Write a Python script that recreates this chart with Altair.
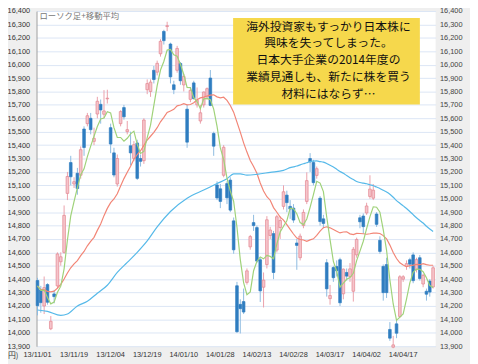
import altair as alt
import pandas as pd

# ---------------- data ----------------
dates = [
    "13/11/01", "13/11/05", "13/11/06", "13/11/07", "13/11/08", "13/11/11", "13/11/12", "13/11/13", "13/11/14", "13/11/15",
    "13/11/18", "13/11/19", "13/11/20", "13/11/21", "13/11/22", "13/11/25", "13/11/26", "13/11/27", "13/11/28", "13/11/29",
    "13/12/02", "13/12/03", "13/12/04", "13/12/05", "13/12/06", "13/12/09", "13/12/10", "13/12/11", "13/12/12", "13/12/13",
    "13/12/16", "13/12/17", "13/12/18", "13/12/19", "13/12/20", "13/12/24", "13/12/25", "13/12/26", "13/12/27", "13/12/30",
    "14/01/06", "14/01/07", "14/01/08", "14/01/09", "14/01/10", "14/01/14", "14/01/15", "14/01/16", "14/01/17", "14/01/20",
    "14/01/21", "14/01/22", "14/01/23", "14/01/24", "14/01/27", "14/01/28", "14/01/29", "14/01/30", "14/01/31", "14/02/03",
    "14/02/04", "14/02/05", "14/02/06", "14/02/07", "14/02/10", "14/02/12", "14/02/13", "14/02/14", "14/02/17", "14/02/18",
    "14/02/19", "14/02/20", "14/02/21", "14/02/24", "14/02/25", "14/02/26", "14/02/27", "14/02/28", "14/03/03", "14/03/04",
    "14/03/05", "14/03/06", "14/03/07", "14/03/10", "14/03/11", "14/03/12", "14/03/13", "14/03/14", "14/03/17", "14/03/18",
    "14/03/19", "14/03/20", "14/03/24", "14/03/25", "14/03/26", "14/03/27", "14/03/28", "14/03/31", "14/04/01", "14/04/02",
    "14/04/03", "14/04/04", "14/04/07", "14/04/08", "14/04/09", "14/04/10", "14/04/11", "14/04/14", "14/04/15", "14/04/16",
    "14/04/17", "14/04/18", "14/04/21", "14/04/22", "14/04/23", "14/04/24", "14/04/25", "14/04/28", "14/04/30", "14/05/01",
]

opens = [
    14390, 14320, 14200, 14360, 14030, 14290, 14350, 14530, 14600, 15040,
    15270, 15110, 15190, 15175, 15520, 15560, 15600, 15428, 15632, 15704,
    15630, 15745, 15530, 15342, 15110, 15560, 15680, 15500, 15395, 15300,
    15416, 15300, 15284, 15813, 15800, 15958, 15944, 16081, 16248, 16284,
    16154, 15850, 15958, 16009, 15849, 15668, 15741, 15864, 15700, 15580,
    15700, 15760, 15900, 15487, 15103, 15074, 15175, 15113, 15139, 14835,
    14351, 14212, 14233, 14376, 14641, 14822, 14785, 14545, 14340, 14509,
    14726, 14740, 14617, 14785, 14943, 15027, 14943, 14930, 14670, 14560,
    14800, 14980, 15300, 15270, 15174, 15004, 14850, 14523, 14255, 14487,
    14495, 14545, 14291, 14450, 14420, 14310, 14581, 14858, 14871, 14894,
    15017, 15004, 14886, 14690, 14495, 14509, 14025, 13893, 14067, 14122,
    14400, 14495, 14545, 14581, 14472, 14560, 14364, 14310, 14386, 14342,
]
highs = [
    14410, 14350, 14420, 14370, 14125, 14320, 14600, 14600, 14950, 15200,
    15320, 15160, 15230, 15390, 15540, 15640, 15640, 15530, 15760, 15740,
    15810, 15813, 15560, 15380, 15330, 15660, 15700, 15580, 15500, 15430,
    15440, 15330, 15600, 15890, 15890, 15990, 16030, 16190, 16260, 16320,
    16164, 15880, 16140, 16020, 15930, 15700, 15830, 15880, 15830, 15700,
    15800, 15830, 15960, 15500, 15130, 15110, 15400, 15130, 15160, 14860,
    14380, 14250, 14330, 14480, 14730, 14880, 14800, 14560, 14450, 14870,
    14790, 14760, 14880, 14870, 15100, 15060, 14990, 14960, 14700, 14740,
    14920, 15197, 15340, 15290, 15240, 15020, 14880, 14550, 14357, 14500,
    14540, 14560, 14480, 14480, 14520, 14640, 14710, 14880, 14890, 14970,
    15175, 15110, 14900, 14720, 14510, 14560, 14080, 13977, 14090, 14430,
    14430, 14540, 14560, 14600, 14560, 14580, 14440, 14330, 14400, 14500,
]
lows = [
    14130, 14150, 14140, 14210, 14020, 14220, 14330, 14500, 14590, 14990,
    15100, 15080, 15030, 15150, 15320, 15540, 15480, 15400, 15600, 15560,
    15600, 15710, 15340, 15160, 15090, 15540, 15590, 15480, 15250, 15280,
    15140, 15240, 15260, 15780, 15760, 15860, 15920, 16060, 16150, 16250,
    15860, 15780, 15940, 15850, 15800, 15380, 15720, 15740, 15680, 15560,
    15680, 15740, 15690, 15320, 14990, 14930, 15160, 14960, 14900, 14590,
    14000, 13995, 14140, 14360, 14620, 14760, 14520, 14230, 14189, 14480,
    14700, 14400, 14600, 14700, 14920, 14900, 14850, 14820, 14470, 14540,
    14780, 14960, 15200, 15100, 15150, 14800, 14780, 14270, 14210, 14380,
    14420, 14200, 14250, 14390, 14380, 14233, 14560, 14780, 14740, 14880,
    15000, 14990, 14790, 14590, 14240, 14260, 13940, 13885, 13960, 14110,
    14380, 14470, 14480, 14370, 14450, 14390, 14340, 14240, 14270, 14330,
]
closes = [
    14202, 14225, 14337, 14228, 14086, 14270, 14588, 14567, 14876, 15166,
    15164, 15127, 15076, 15366, 15382, 15619, 15515, 15450, 15727, 15662,
    15655, 15750, 15408, 15177, 15300, 15650, 15611, 15515, 15342, 15403,
    15152, 15279, 15587, 15859, 15870, 15889, 16010, 16174, 16179, 16291,
    15909, 15814, 16121, 15880, 15912, 15422, 15809, 15747, 15734, 15641,
    15796, 15821, 15696, 15392, 15006, 14980, 15384, 15007, 14915, 14619,
    14008, 14180, 14155, 14462, 14718, 14800, 14535, 14313, 14393, 14843,
    14767, 14450, 14866, 14838, 15052, 14971, 14923, 14841, 14652, 14721,
    14898, 15135, 15274, 15120, 15224, 14830, 14816, 14328, 14278, 14411,
    14463, 14224, 14475, 14423, 14477, 14623, 14696, 14828, 14792, 14946,
    15072, 15064, 14809, 14607, 14300, 14300, 13960, 13910, 13997, 14418,
    14418, 14516, 14512, 14389, 14546, 14405, 14429, 14288, 14304, 14485,
]

# moving averages (green: 5-day, red: 25-day, blue: 75-day)
ma5 = [
    14351, 14316, 14319, 14264, 14216, 14229, 14302, 14348, 14477, 14693,
    14872, 14980, 15082, 15180, 15223, 15314, 15392, 15466, 15539, 15595,
    15602, 15649, 15640, 15530, 15458, 15457, 15429, 15451, 15484, 15504,
    15405, 15338, 15353, 15456, 15549, 15697, 15843, 15960, 16024, 16109,
    16113, 16073, 16063, 16003, 15927, 15830, 15829, 15754, 15725, 15671,
    15745, 15748, 15738, 15669, 15542, 15379, 15292, 15154, 15058, 14981,
    14787, 14546, 14375, 14285, 14305, 14463, 14534, 14566, 14552, 14577,
    14570, 14553, 14664, 14753, 14795, 14835, 14930, 14925, 14888, 14822,
    14807, 14849, 14936, 15030, 15130, 15117, 15053, 14864, 14695, 14533,
    14459, 14341, 14370, 14399, 14412, 14444, 14539, 14609, 14683, 14777,
    14867, 14940, 14937, 14900, 14770, 14616, 14395, 14215, 14093, 14117,
    14141, 14252, 14372, 14451, 14476, 14474, 14456, 14411, 14352, 14339,
]
ma25 = [
    14346, 14324, 14320, 14309, 14306, 14311, 14333, 14362, 14401, 14446,
    14485, 14514, 14539, 14575, 14607, 14649, 14682, 14712, 14764, 14811,
    14874, 14928, 14971, 14998, 15037, 15095, 15150, 15197, 15242, 15295,
    15330, 15358, 15398, 15438, 15466, 15495, 15530, 15574, 15607, 15643,
    15655, 15667, 15693, 15699, 15709, 15700, 15703, 15716, 15738, 15752,
    15758, 15766, 15773, 15775, 15760, 15753, 15757, 15734, 15696, 15646,
    15571, 15497, 15417, 15348, 15285, 15241, 15190, 15117, 15058, 15015,
    14989, 14934, 14899, 14863, 14840, 14807, 14771, 14737, 14707, 14696,
    14692, 14682, 14693, 14701, 14726, 14758, 14784, 14791, 14783, 14771,
    14758, 14745, 14752, 14753, 14738, 14733, 14742, 14741, 14739, 14735,
    14739, 14744, 14743, 14741, 14725, 14701, 14654, 14599, 14554, 14522,
    14505, 14493, 14501, 14505, 14511, 14508, 14516, 14509, 14504, 14504,
]
ma75_day = [
    0, 3, 7, 9, 12, 15, 18, 21, 24, 27, 30, 33, 36, 40, 45, 50, 54, 57, 59, 61, 63, 66, 70, 74,
    75, 76, 77, 78, 79, 80, 81, 82, 83, 84, 85, 86, 87, 88, 89, 90, 91, 92, 93, 94, 95, 96, 97,
    98, 99, 100, 101, 102, 103, 104, 105, 106, 107, 108, 109, 110, 111, 112, 113, 114, 115, 116,
    117, 118, 119,
]
ma75 = [
    14170, 14160, 14130, 14140, 14200, 14235, 14295, 14355, 14450, 14525, 14600, 14685, 14790,
    14905, 15004, 15065, 15113, 15150, 15185, 15186, 15176, 15182, 15197, 15212,
    15222, 15232, 15238, 15244, 15253, 15261, 15268, 15278, 15281, 15282, 15277, 15273, 15263,
    15249, 15236, 15220, 15203, 15190, 15173, 15157, 15143, 15129, 15121,
    15116, 15112, 15104, 15097, 15087, 15077, 15063, 15051, 15034, 15011, 14986, 14967, 14947,
    14927, 14905, 14881, 14858, 14838, 14819, 14795, 14774, 14755,
]

tick_labels = ["13/11/01", "13/11/19", "13/12/04", "13/12/19", "14/01/10", "14/01/28",
               "14/02/13", "14/02/28", "14/03/17", "14/04/02", "14/04/17"]
y_ticks = [13900, 14000, 14100, 14200, 14300, 14400, 14500, 14600, 14700, 14800, 14900,
           15000, 15100, 15200, 15300, 15400, 15500, 15600, 15700, 15800, 15900, 16000,
           16100, 16200, 16300, 16400]

legend_label = "ローソク足+移動平均"
unit_label = "円)"
note_lines = [
    "海外投資家もすっかり日本株に",
    "興味を失ってしまった。",
    "日本大手企業の2014年度の",
    "業績見通しも、新たに株を買う",
    "材料にはならず…",
]

# ---------------- styling ----------------
GRID = "#dbe5f5"
UP_FILL, UP_LINE = "#f5c4cb", "#e3848f"
DN_FILL, DN_LINE = "#2f7dc0", "#2f7dc0"
UP_WICK, DN_WICK = "#eba0aa", "#8dbbe0"
LABEL_FONT = "Liberation Sans"
JP_FONT = "Noto Sans CJK JP"

df = pd.DataFrame({
    "i": list(range(len(dates))),
    "date": dates,
    "open": opens,
    "high": highs,
    "low": lows,
    "close": closes,
    "ma5": ma5,
    "ma25": ma25,
})
df["up"] = df["close"] >= df["open"]
df75 = pd.DataFrame({"i": ma75_day, "ma75": ma75})

tick_idx = [dates.index(t) for t in tick_labels]
tick_df = pd.DataFrame({"i": tick_idx, "label": tick_labels})

xs = alt.Scale(domain=[-0.3, 119.75], nice=False, zero=False)
ys = alt.Scale(domain=[13900, 16400], nice=False, zero=False)

x_axis = alt.Axis(values=tick_idx, labels=False, grid=True, gridColor=GRID,
                  gridWidth=1, domain=False, ticks=False, title=None)
y_left = alt.Axis(orient="left", values=y_ticks, format=",d", grid=True, gridColor=GRID,
                  gridWidth=1, domain=True, domainColor="#9a9a9a", ticks=False,
                  labelPadding=7, labelFontSize=7.5, labelColor="#333",
                  labelFont=LABEL_FONT, title=None)
y_right = alt.Axis(orient="right", values=y_ticks, format=",d", grid=False, domain=False,
                   ticks=False, labelPadding=4, labelFontSize=7.5, labelColor="#444",
                   labelFont=LABEL_FONT, title=None)

base = alt.Chart(df)

wicks = base.mark_rule(strokeWidth=1).encode(
    x=alt.X("i:Q", scale=xs, axis=x_axis),
    y=alt.Y("low:Q", scale=ys, axis=y_left),
    y2="high:Q",
    color=alt.condition("datum.up", alt.value(UP_WICK), alt.value(DN_WICK)),
)

bodies = base.transform_calculate(
    x0="datum.i - 0.4", x1="datum.i + 0.4"
).mark_bar(strokeWidth=0.7).encode(
    x=alt.X("x0:Q", scale=xs, axis=None),
    x2="x1:Q",
    y=alt.Y("open:Q", scale=ys, axis=None),
    y2="close:Q",
    fill=alt.condition("datum.up", alt.value(UP_FILL), alt.value(DN_FILL)),
    stroke=alt.condition("datum.up", alt.value(UP_LINE), alt.value(DN_LINE)),
)

line25 = base.mark_line(color="#f28576", strokeWidth=1.2).encode(
    x=alt.X("i:Q", scale=xs, axis=None),
    y=alt.Y("ma25:Q", scale=ys, axis=y_right),
)
line5 = base.mark_line(color="#9fd279", strokeWidth=1.2).encode(
    x=alt.X("i:Q", scale=xs, axis=None),
    y=alt.Y("ma5:Q", scale=ys, axis=None),
)
line75 = alt.Chart(df75).mark_line(color="#56b9e9", strokeWidth=1.2, interpolate="monotone").encode(
    x=alt.X("i:Q", scale=xs, axis=None),
    y=alt.Y("ma75:Q", scale=ys, axis=None),
)

# x tick labels drawn as text under the plot, positioned by the x scale
x_labels = alt.Chart(tick_df).mark_text(
    align="center", baseline="top", font=LABEL_FONT, fontSize=7.5, color="#333"
).encode(
    x=alt.X("i:Q", scale=xs, axis=None),
    y=alt.value(346),
    text="label:N",
)

note_df = pd.DataFrame({"note": ["\n".join(note_lines)]})
note_box = alt.Chart(note_df).mark_rect(fill="#f6d84c").encode(
    x=alt.value(200), x2=alt.value(390), y=alt.value(7), y2=alt.value(95)
)
note_text = alt.Chart(note_df).mark_text(
    align="center", baseline="top", lineBreak="\n", lineHeight=17,
    font=JP_FONT, fontSize=12, color="#111"
).encode(x=alt.value(297), y=alt.value(11), text="note:N")

legend_df = pd.DataFrame({"t": [legend_label]})
legend_text = alt.Chart(legend_df).mark_text(
    align="left", baseline="middle", font=JP_FONT, fontSize=8.5, color="#777"
).encode(x=alt.value(3), y=alt.value(5), text="t:N")

unit_df = pd.DataFrame({"t": [unit_label]})
unit_text = alt.Chart(unit_df).mark_text(
    align="left", baseline="bottom", font=JP_FONT, fontSize=8, color="#333"
).encode(x=alt.value(-29), y=alt.value(355), text="t:N")

chart = alt.layer(
    wicks, bodies, line25, line75, line5, x_labels, note_box, note_text, legend_text, unit_text
).resolve_axis(y="independent").properties(
    width=406, height=341,
    autosize=alt.AutoSizeParams(type="none"),
    padding={"left": 29, "top": 0, "right": 35, "bottom": 15},
    background="#efefef",
).configure_view(fill="white", strokeWidth=0)

chart.save("out.html", embed_options={"renderer": "svg", "actions": False})
